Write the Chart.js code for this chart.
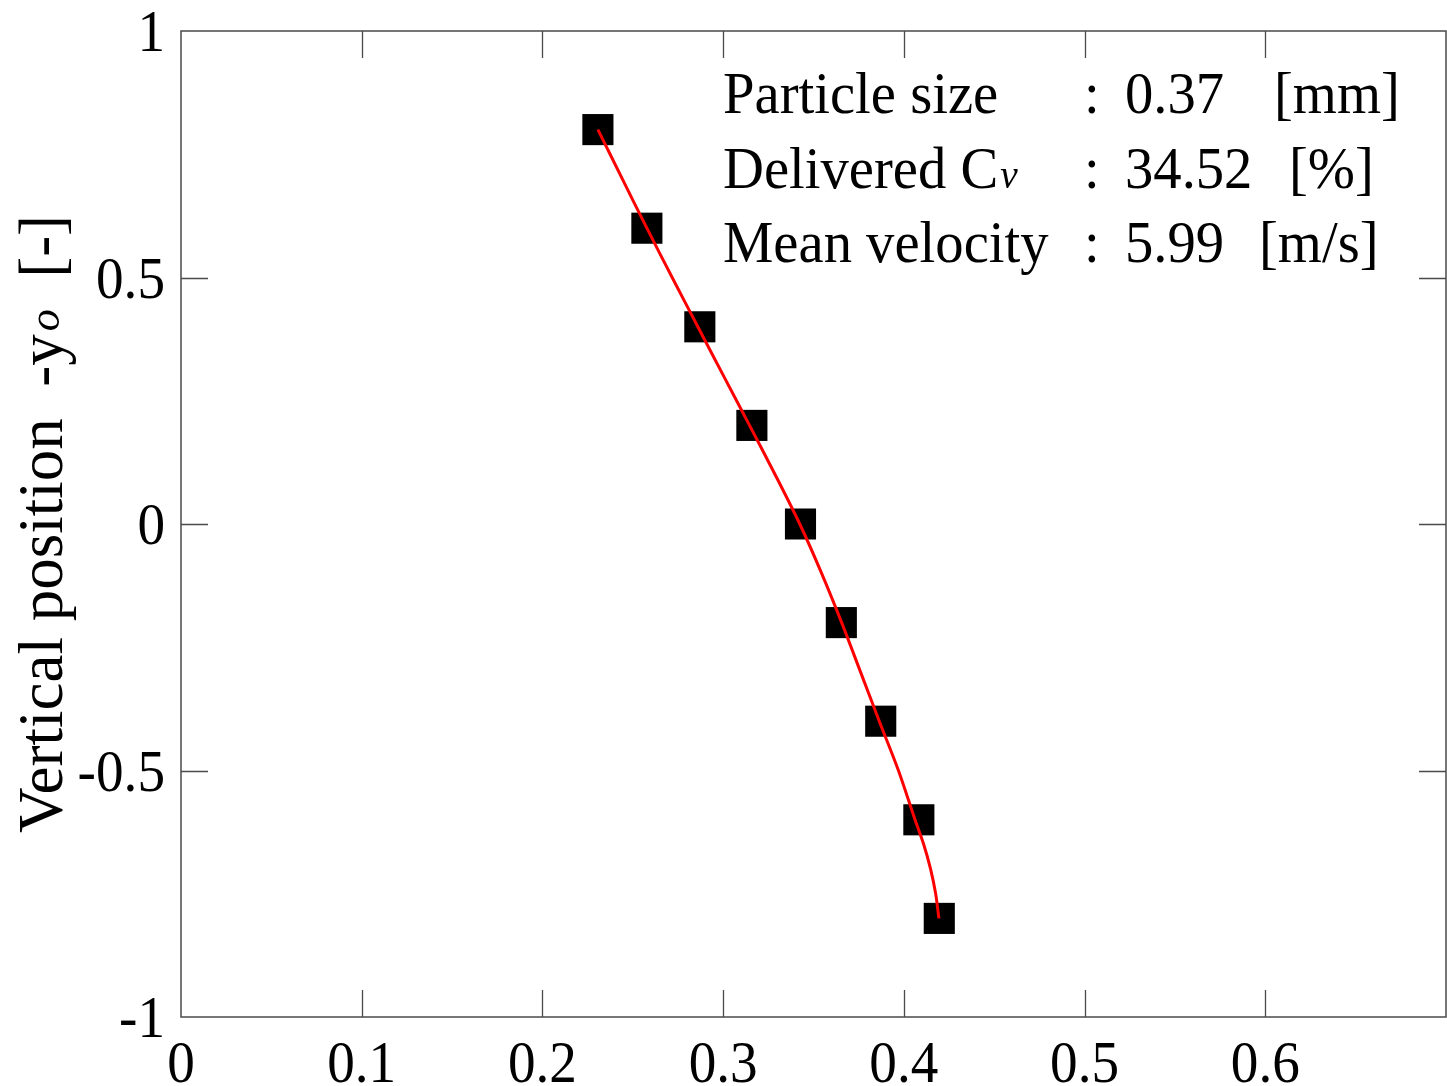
<!DOCTYPE html>
<html><head><meta charset="utf-8">
<script src="https://cdn.jsdelivr.net/npm/chart.js@4/dist/chart.umd.min.js"></script>
<style>html,body{margin:0;padding:0;background:#fff;overflow:hidden}</style>
</head><body>
<canvas id="c" width="1447" height="1086"></canvas>
<script>
// ---- data ----
const measuredY = [0.8, 0.6, 0.4, 0.2, 0, -0.2, -0.4, -0.6, -0.8];
const measuredX = [0.2307, 0.2578, 0.2871, 0.3159, 0.3428, 0.3654, 0.3872, 0.4083, 0.4196];
const fitY = [0.8, 0.7, 0.6, 0.5, 0.4, 0.3, 0.2, 0.1, 0, -0.1, -0.2, -0.3, -0.4, -0.5, -0.6, -0.65, -0.7, -0.75, -0.8];
const fitX = [0.2307, 0.2442, 0.2578, 0.2718, 0.2860, 0.3003, 0.3146, 0.3288, 0.3424, 0.3545, 0.3656, 0.3760, 0.3864, 0.3970, 0.4062, 0.4110, 0.4148, 0.4176, 0.4194];
const xTicks = [0, 0.1, 0.2, 0.3, 0.4, 0.5, 0.6];
const yTicks = [-1, -0.5, 0, 0.5, 1];
const infoLabels = ['Particle size', 'Delivered C', 'Mean velocity'];
const infoLabelSub = ['', 'v', ''];
const infoValues = ['0.37', '34.52', '5.99'];
const infoUnits = ['[mm]', '[%]', '[m/s]'];
const yTitleParts = ['Vertical position  -y', 'o', '  [-]'];

const FONT = '"Liberation Serif", "Times New Roman", serif';
const fmt = v => String(+Number(v).toFixed(2));

function drawText(ctx, text, x, y, font, align, sx) {
  ctx.save();
  ctx.font = font;
  ctx.translate(x, y);
  ctx.scale(sx, 1);
  ctx.textAlign = align;
  ctx.textBaseline = 'alphabetic';
  ctx.fillText(text, 0, 0);
  const w = ctx.measureText(text).width * sx;
  ctx.restore();
  return w;
}

const framePlugin = {
  id: 'frame',
  beforeDatasetsDraw(chart) {
    const {ctx, chartArea: a, scales} = chart;
    ctx.save();
    ctx.strokeStyle = '#4a4a4a';
    ctx.lineWidth = 1.5;
    ctx.strokeRect(a.left, a.top, a.right - a.left, a.bottom - a.top);
    const L = 27;
    ctx.beginPath();
    xTicks.forEach(v => {
      const px = Math.round(scales.x.getPixelForValue(v)) + 0.5;
      if (px <= a.left + 2 || px >= a.right - 2) return;
      ctx.moveTo(px, a.bottom); ctx.lineTo(px, a.bottom - L);
      ctx.moveTo(px, a.top); ctx.lineTo(px, a.top + L);
    });
    yTicks.forEach(v => {
      const py = Math.round(scales.y.getPixelForValue(v)) + 0.5;
      if (py <= a.top + 2 || py >= a.bottom - 2) return;
      ctx.moveTo(a.left, py); ctx.lineTo(a.left + L, py);
      ctx.moveTo(a.right, py); ctx.lineTo(a.right - L, py);
    });
    ctx.lineWidth = 1.3;
    ctx.stroke();
    ctx.restore();
  },
  afterDraw(chart) {
    const {ctx, chartArea: a, scales} = chart;
    ctx.save();
    ctx.fillStyle = '#000';
    const tickFont = '60px ' + FONT;
    // x tick labels
    xTicks.forEach(v => {
      const px = scales.x.getPixelForValue(v);
      drawText(ctx, fmt(v), px, a.bottom + 65, tickFont, 'center', 0.92);
    });
    // y tick labels
    yTicks.forEach(v => {
      const py = scales.y.getPixelForValue(v);
      drawText(ctx, fmt(v), a.left - 16, py + 20, tickFont, 'right', 0.92);
    });
    // info block
    const rowBase = [82, 157, 231];
    const colLabel = 542, colColon = 903, colValue = 944;
    const colUnit = [1093, 1108, 1078];
    const infoFont = '59px ' + FONT;
    const sx = 0.96;
    for (let i = 0; i < infoLabels.length; i++) {
      const yb = a.top + rowBase[i];
      const w = drawText(ctx, infoLabels[i], a.left + colLabel, yb, infoFont, 'left', sx);
      if (infoLabelSub[i]) {
        drawText(ctx, infoLabelSub[i], a.left + colLabel + w + 2, yb, 'italic 41px ' + FONT, 'left', sx);
      }
      drawText(ctx, ':', a.left + colColon, yb, infoFont, 'left', sx);
      drawText(ctx, infoValues[i], a.left + colValue, yb, infoFont, 'left', sx);
      drawText(ctx, infoUnits[i], a.left + colUnit[i], yb, infoFont, 'left', sx);
    }
    ctx.restore();
    // y title (rotated)
    ctx.save();
    ctx.translate(62, 833);
    ctx.rotate(-Math.PI / 2);
    ctx.fillStyle = '#000';
    ctx.textBaseline = 'alphabetic';
    ctx.textAlign = 'left';
    let x = 0;
    ctx.font = '63px ' + FONT;
    ctx.fillText(yTitleParts[0], x, 0); x += ctx.measureText(yTitleParts[0]).width + 3;
    ctx.font = 'italic 44px ' + FONT;
    ctx.fillText(yTitleParts[1], x, -3); x += ctx.measureText(yTitleParts[1]).width;
    ctx.font = '63px ' + FONT;
    ctx.fillText(yTitleParts[2], x, 0);
    ctx.restore();
  }
};

new Chart(document.getElementById('c'), {
  type: 'scatter',
  data: {
    datasets: [
      {
        label: 'fit',
        data: fitX.map((x, i) => ({x, y: fitY[i]})),
        showLine: true,
        borderColor: '#ff0000',
        borderWidth: 3,
        pointRadius: 0,
        tension: 0.3,
        fill: false,
        order: 0
      },
      {
        label: 'measured',
        data: measuredX.map((x, i) => ({x, y: measuredY[i]})),
        showLine: false,
        pointStyle: 'rect',
        pointRadius: 22,
        pointHoverRadius: 22,
        backgroundColor: '#000',
        borderColor: '#000',
        borderWidth: 0,
        order: 1
      }
    ]
  },
  options: {
    responsive: false,
    animation: false,
    devicePixelRatio: 1,
    layout: {autoPadding: false, padding: {top: 31, right: 1, left: 0, bottom: 0}},
    plugins: {legend: {display: false}, tooltip: {enabled: false}},
    scales: {
      x: {
        type: 'linear', min: 0, max: 0.7,
        afterBuildTicks: s => { s.ticks = xTicks.map(v => ({value: v})); },
        afterFit: s => { s.height = 69; s.paddingLeft = 0; s.paddingRight = 0; },
        grid: {display: false},
        border: {display: false},
        ticks: {display: false}
      },
      y: {
        type: 'linear', min: -1, max: 1,
        afterBuildTicks: s => { s.ticks = yTicks.map(v => ({value: v})); },
        afterFit: s => { s.width = 181; s.paddingTop = 0; s.paddingBottom = 0; },
        grid: {display: false},
        border: {display: false},
        ticks: {display: false}
      }
    }
  },
  plugins: [framePlugin]
});
</script>
</body></html>
